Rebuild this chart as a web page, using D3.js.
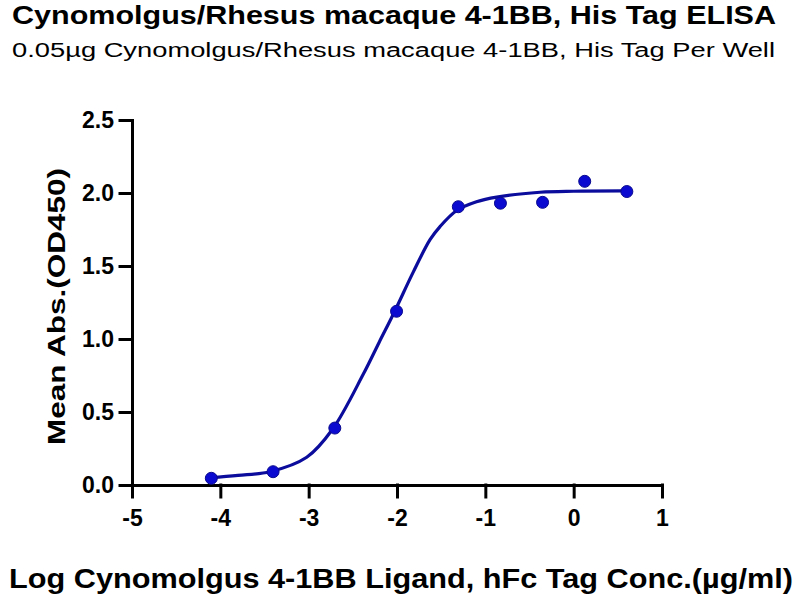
<!DOCTYPE html>
<html>
<head>
<meta charset="utf-8">
<script src="https://cdn.jsdelivr.net/npm/d3@7"></script>
<style>
  body { margin: 0; background: #fff; }
  text { font-family: "Liberation Sans", Arial, sans-serif; }
</style>
</head>
<body>
<script>
// measured points (log conc, OD450)
var logConc = [-4.102, -3.403, -2.704, -2.005, -1.306, -0.829, -0.352, 0.125, 0.602];
var meanAbs = [0.046, 0.091, 0.39, 1.19, 1.906, 1.93, 1.936, 2.08, 2.01];

// fitted curve
var fitX = [-4.117, -3.8, -3.438, -3.022, -2.732, -2.381, -2.2, -2.034, -1.815, -1.626, -1.513, -1.324, -1.1, -0.871, -0.381, 0.0, 0.559];
var fitY = [0.050, 0.066, 0.091, 0.190, 0.380, 0.760, 0.98, 1.180, 1.46, 1.68, 1.77, 1.880, 1.94, 1.972, 2.005, 2.012, 2.014];

var xTicks = [-5, -4, -3, -2, -1, 0, 1];
var yTicks = [0, 0.5, 1.0, 1.5, 2.0, 2.5];

var title = "Cynomolgus/Rhesus macaque 4-1BB, His Tag ELISA";
var subtitle = "0.05µg Cynomolgus/Rhesus macaque 4-1BB, His Tag Per Well";
var xTitle = "Log Cynomolgus 4-1BB Ligand, hFc Tag Conc.(µg/ml)";
var yTitle = "Mean Abs.(OD450)";

var width = 800, height = 600;
var plotLeft = 132, plotRight = 662, plotTop = 120, plotBottom = 485;
var lineThickness = 3;
var blue = "#0b0b9c";

var svg = d3.select("body").append("svg")
    .attr("width", width)
    .attr("height", height);

var x = d3.scaleLinear().domain([-5, 1]).range([plotLeft, plotRight]);
var y = d3.scaleLinear().domain([0, 2.5]).range([plotBottom, plotTop]);

// axes
var xAxis = svg.append("g")
    .attr("transform", "translate(0," + plotBottom + ")")
    .call(d3.axisBottom(x).tickValues(xTicks).tickSize(12).tickSizeOuter(0).tickPadding(8)
        .tickFormat(function (d) { return String(d); }));

var yAxis = svg.append("g")
    .attr("transform", "translate(" + plotLeft + ",0)")
    .call(d3.axisLeft(y).tickValues(yTicks).tickSize(12).tickSizeOuter(0).tickPadding(6)
        .tickFormat(function (d) { return d.toFixed(1); }));

svg.selectAll(".domain, .tick line")
    .attr("stroke", "#000")
    .attr("stroke-width", lineThickness)
    .attr("stroke-linecap", "square");

svg.selectAll(".tick text")
    .attr("fill", "#000")
    .style("font-size", "23px")
    .style("font-weight", "bold")
    .style("font-family", "'Liberation Sans', Arial, sans-serif");

xAxis.selectAll(".tick text").attr("dy", "0.9em");

// fitted curve
var line = d3.line()
    .x(function (d, i) { return x(fitX[i]); })
    .y(function (d) { return y(d); })
    .curve(d3.curveCatmullRom.alpha(0.5));

svg.append("path")
    .datum(fitY)
    .attr("d", line)
    .attr("fill", "none")
    .attr("stroke", blue)
    .attr("stroke-width", 3.2);

// points
svg.selectAll(".pt")
    .data(meanAbs)
    .enter().append("circle")
    .attr("class", "pt")
    .attr("cx", function (d, i) { return x(logConc[i]); })
    .attr("cy", function (d) { return y(d); })
    .attr("r", 6)
    .attr("fill", "#0a0ad0")
    .attr("stroke", "#0a0a90")
    .attr("stroke-width", 1);

// titles
svg.append("text")
    .attr("x", 12).attr("y", 24)
    .attr("textLength", 764).attr("lengthAdjust", "spacingAndGlyphs")
    .style("font-size", "26px").style("font-weight", "bold")
    .text(title);

svg.append("text")
    .attr("x", 12).attr("y", 57)
    .attr("textLength", 763).attr("lengthAdjust", "spacingAndGlyphs")
    .style("font-size", "20px")
    .text(subtitle);

svg.append("text")
    .attr("x", 9).attr("y", 588)
    .attr("textLength", 784).attr("lengthAdjust", "spacingAndGlyphs")
    .style("font-size", "27px").style("font-weight", "bold")
    .text(xTitle);

svg.append("text")
    .attr("transform", "translate(65,445) rotate(-90)")
    .attr("x", 0).attr("y", 0)
    .attr("textLength", 277).attr("lengthAdjust", "spacingAndGlyphs")
    .style("font-size", "24px").style("font-weight", "bold")
    .text(yTitle);
</script>
</body>
</html>
